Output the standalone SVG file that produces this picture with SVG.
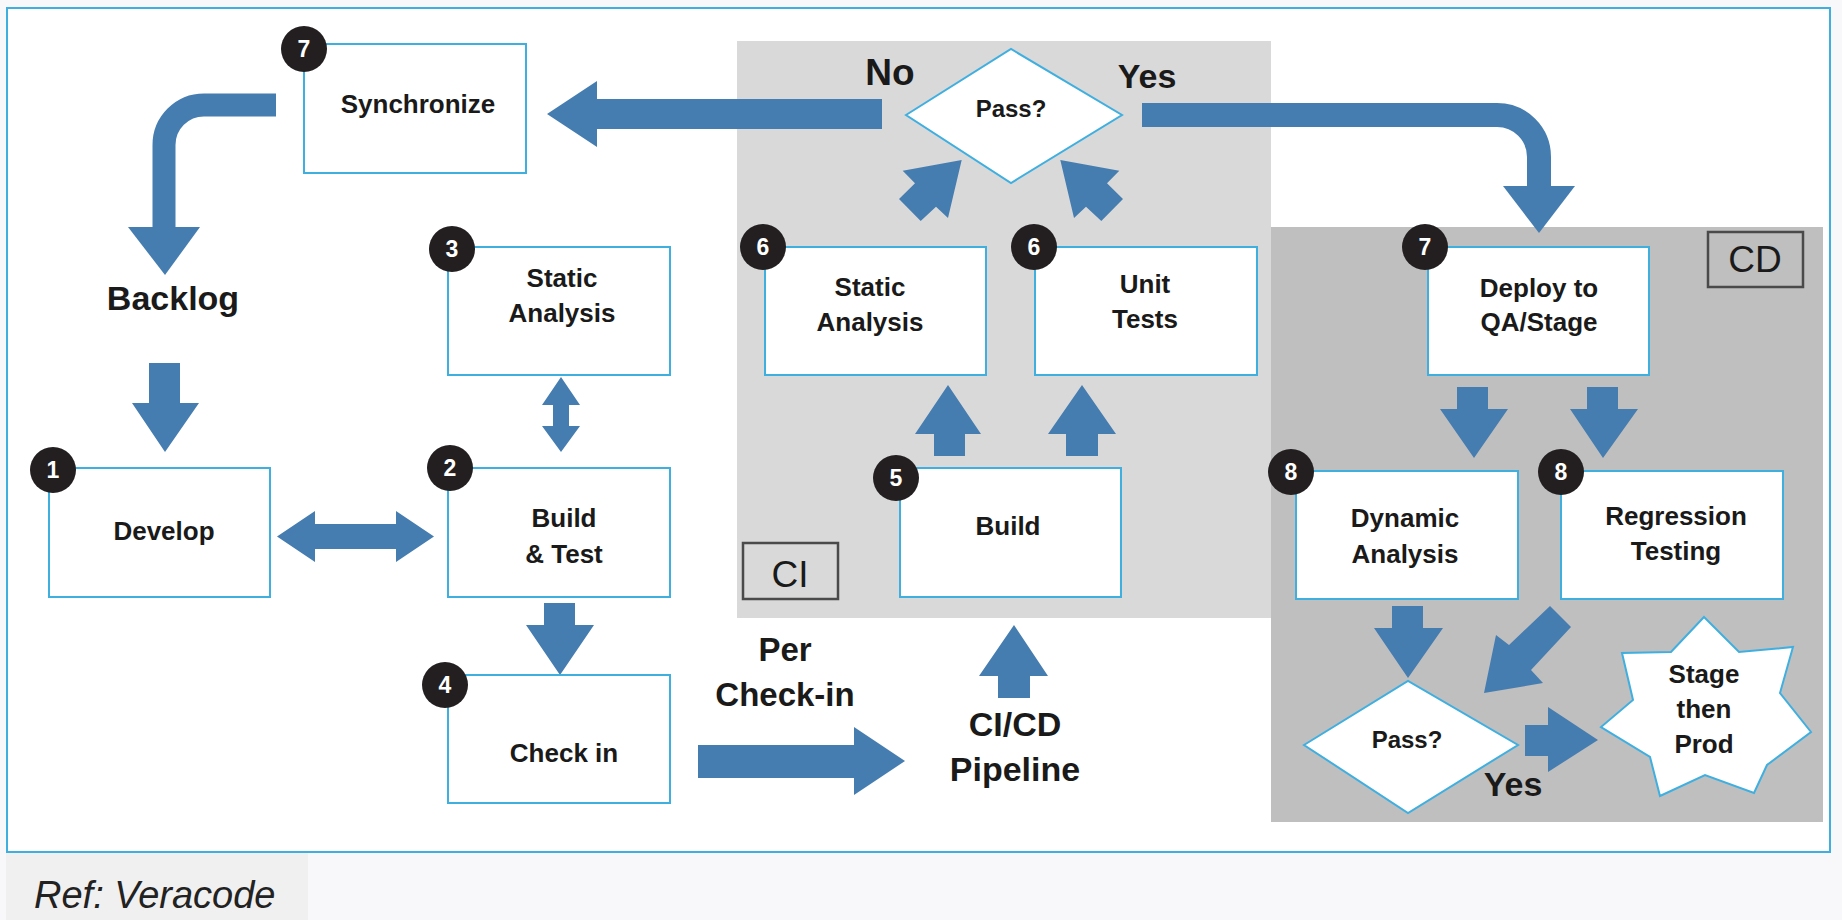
<svg xmlns="http://www.w3.org/2000/svg" width="1842" height="920" viewBox="0 0 1842 920">
<style>
.box{fill:#fff;stroke:#3fafe0;stroke-width:2}
.dia{fill:#fff;stroke:#3fafe0;stroke-width:2}
.badge{fill:#231f20}
.nt{fill:#fff;font-family:"Liberation Sans",Arial,sans-serif;font-weight:bold;font-size:23px;text-anchor:middle}
.lbl{fill:#1a1a1a;font-family:"Liberation Sans",Arial,sans-serif;font-weight:bold;font-size:26px;text-anchor:middle}
.big{font-size:34px}
.s33{font-size:33px}
.s37{font-size:37px}
.s24{font-size:24px}
.arr{fill:#457db0}
.crv{fill:none;stroke:#457db0}
.tag{fill:none;stroke:#4a4a4a;stroke-width:2.5}
.tagt{fill:#1a1a1a;font-family:"Liberation Sans",Arial,sans-serif;font-size:37px;text-anchor:middle}
</style>
<rect x="0" y="0" width="1842" height="920" fill="#f8f8fa"/>
<rect x="7" y="8" width="1823" height="844" fill="#fff" stroke="#3fafe0" stroke-width="2"/>
<rect x="6" y="853" width="302" height="67" fill="#f0f0f0"/>
<text x="34" y="908" font-family="'Liberation Sans',Arial,sans-serif" font-style="italic" font-size="38" fill="#222">Ref: Veracode</text>

<g id="regions">
<rect id="ci-region" x="737" y="41" width="534" height="577" fill="#d9d9d9"/>
<rect id="cd-region" x="1271" y="227" width="552" height="595" fill="#bfbfbf"/>
<g id="ci-tag"><rect class="tag" x="743" y="543" width="95" height="56"/><text class="tagt" x="790" y="587">CI</text></g>
<g id="cd-tag"><rect class="tag" x="1708" y="232" width="95" height="55"/><text class="tagt" x="1755" y="272">CD</text></g>
</g>

<g id="connectors">
<path class="arr" d="M882,99 H597 V81 L547,114 L597,147 V129 H882 Z"/>
<path class="crv" stroke-width="24" d="M1142,115 H1497 A42,42 0 0 1 1539,157 V188"/>
<polygon class="arr" points="1503,186 1575,186 1539,233"/>
<path class="crv" stroke-width="23" d="M276,105 H204 A40,40 0 0 0 164,145 V229"/>
<polygon class="arr" points="128,227 200,227 165,275"/>
<path class="arr" d="M149,363 H180 V403 H199 L165,452 L132,403 H149 Z"/>
<path class="arr" d="M561,377 L580,405 H569 V426 H580 L561,452 L542,426 H553 V405 H542 Z"/>
<path class="arr" d="M277,536.5 L315,511 V524 H396 V511 L434,536.5 L396,562 V549 H315 V562 Z"/>
<path class="arr" d="M544,603 H575 V625 H594 L560,675 L526,625 H544 Z"/>
<path class="arr" d="M698,745 H854 V727 L905,761 L854,795 V778 H698 Z"/>
<path class="arr" d="M998,698 V676 H979 L1014,625 L1048,676 H1030 V698 Z"/>
<path class="arr" d="M934,456 V434 H915 L948,385 L981,434 H965 V456 Z"/>
<path class="arr" d="M1066,456 V434 H1048 L1082,385 L1116,434 H1098 V456 Z"/>
<polygon class="arr" points="961.7,160 948,218 936,206.7 920.7,221 899,199 915,183.3 902.7,170.7"/>
<polygon class="arr" transform="translate(2022,0) scale(-1,1)" points="961.7,160 948,218 936,206.7 920.7,221 899,199 915,183.3 902.7,170.7"/>
<path class="arr" d="M1457,387 H1488 V409 H1508 L1474,458 L1440,409 H1457 Z"/>
<path class="arr" d="M1587,387 H1618 V409 H1638 L1603,458 L1570,409 H1587 Z"/>
<path class="arr" d="M1392,606 H1423 V628 H1443 L1408,678 L1374,628 H1392 Z"/>
<polygon class="arr" points="1484,693 1496,635 1509,645 1550,606 1571,627 1531,670 1543,683"/>
<path class="arr" d="M1525,725 H1548 V707 L1598,740 L1548,772 V756 H1525 Z"/>
</g>

<g id="n7-synchronize">
<rect class="box" x="304" y="44" width="222" height="129"/>
<circle class="badge" cx="304" cy="49" r="23"/><text class="nt" x="304" y="57">7</text>
<text class="lbl" x="418" y="113">Synchronize</text>
</g>
<g id="backlog"><text class="lbl big" x="173" y="310">Backlog</text></g>
<g id="n3-static-analysis">
<rect class="box" x="448" y="247" width="222" height="128"/>
<circle class="badge" cx="452" cy="249" r="23"/><text class="nt" x="452" y="257">3</text>
<text class="lbl" x="562" y="287">Static</text>
<text class="lbl" x="562" y="322">Analysis</text>
</g>
<g id="n1-develop">
<rect class="box" x="49" y="468" width="221" height="129"/>
<circle class="badge" cx="53" cy="470" r="23"/><text class="nt" x="53" y="478">1</text>
<text class="lbl" x="164" y="540">Develop</text>
</g>
<g id="n2-build-test">
<rect class="box" x="448" y="468" width="222" height="129"/>
<circle class="badge" cx="450" cy="468" r="23"/><text class="nt" x="450" y="476">2</text>
<text class="lbl" x="564" y="527">Build</text>
<text class="lbl" x="564" y="563">&amp; Test</text>
</g>
<g id="n4-check-in">
<rect class="box" x="448" y="675" width="222" height="128"/>
<circle class="badge" cx="445" cy="685" r="23"/><text class="nt" x="445" y="693">4</text>
<text class="lbl" x="564" y="762">Check in</text>
</g>
<g id="per-check-in">
<text class="lbl s33" x="785" y="661">Per</text>
<text class="lbl s33" x="785" y="706">Check-in</text>
</g>
<g id="cicd-pipeline">
<text class="lbl big" x="1015" y="736">CI/CD</text>
<text class="lbl big" x="1015" y="781">Pipeline</text>
</g>
<g id="n5-build">
<rect class="box" x="900" y="468" width="221" height="129"/>
<circle class="badge" cx="896" cy="478" r="23"/><text class="nt" x="896" y="486">5</text>
<text class="lbl" x="1008" y="535">Build</text>
</g>
<g id="n6-static-analysis">
<rect class="box" x="765" y="247" width="221" height="128"/>
<circle class="badge" cx="763" cy="247" r="23"/><text class="nt" x="763" y="255">6</text>
<text class="lbl" x="870" y="296">Static</text>
<text class="lbl" x="870" y="331">Analysis</text>
</g>
<g id="n6-unit-tests">
<rect class="box" x="1035" y="247" width="222" height="128"/>
<circle class="badge" cx="1034" cy="247" r="23"/><text class="nt" x="1034" y="255">6</text>
<text class="lbl" x="1145" y="293">Unit</text>
<text class="lbl" x="1145" y="328">Tests</text>
</g>
<g id="pass-ci">
<polygon class="dia" points="906,115 1011,49 1122,115 1011,183"/>
<text class="lbl s24" x="1011" y="117">Pass?</text>
</g>
<g id="labels-ci">
<text class="lbl s37" x="890" y="85">No</text>
<text class="lbl big" x="1147" y="88">Yes</text>
</g>
<g id="n7-deploy">
<rect class="box" x="1428" y="247" width="221" height="128"/>
<circle class="badge" cx="1425" cy="247" r="23"/><text class="nt" x="1425" y="255">7</text>
<text class="lbl" x="1539" y="297">Deploy to</text>
<text class="lbl" x="1539" y="331">QA/Stage</text>
</g>
<g id="n8-dynamic-analysis">
<rect class="box" x="1296" y="471" width="222" height="128"/>
<circle class="badge" cx="1291" cy="472" r="23"/><text class="nt" x="1291" y="480">8</text>
<text class="lbl" x="1405" y="527">Dynamic</text>
<text class="lbl" x="1405" y="563">Analysis</text>
</g>
<g id="n8-regression-testing">
<rect class="box" x="1561" y="471" width="222" height="128"/>
<circle class="badge" cx="1561" cy="472" r="23"/><text class="nt" x="1561" y="480">8</text>
<text class="lbl" x="1676" y="525">Regression</text>
<text class="lbl" x="1676" y="560">Testing</text>
</g>
<g id="pass-cd">
<polygon class="dia" points="1304,745 1408,681 1518,745 1408,813"/>
<text class="lbl s24" x="1407" y="748">Pass?</text>
</g>
<g id="stage-then-prod">
<polygon class="dia" points="1704,617 1739,652 1793,647 1780,693 1811,732 1767,765 1754,793 1705,775 1660,796 1650,757 1601,727 1633,700 1622,653 1671,652"/>
<text class="lbl" x="1704" y="683">Stage</text>
<text class="lbl" x="1704" y="718">then</text>
<text class="lbl" x="1704" y="753">Prod</text>
</g>
<g id="label-yes-cd"><text class="lbl big" x="1513" y="796">Yes</text></g>
</svg>
